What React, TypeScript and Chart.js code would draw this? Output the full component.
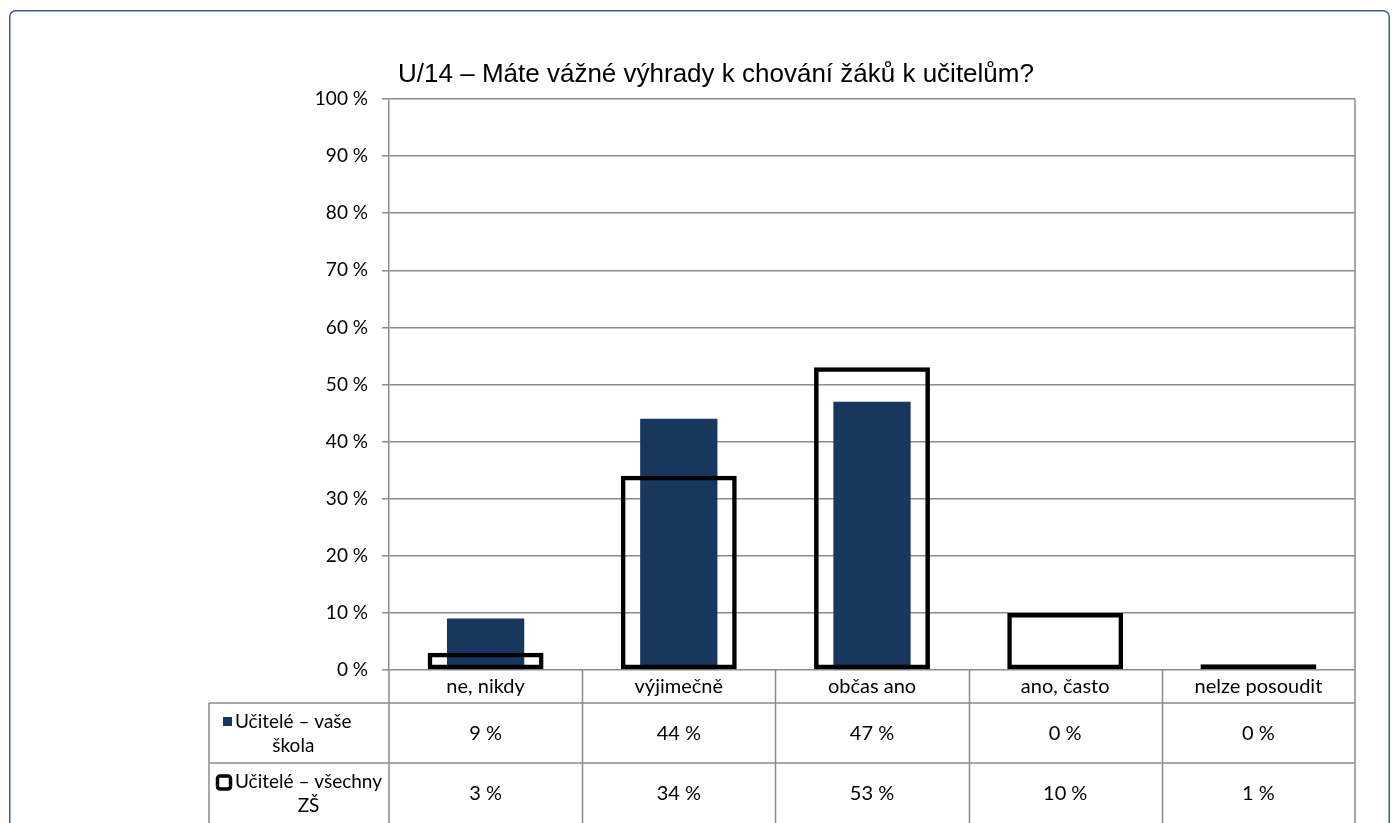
import React, { useEffect, useRef } from "react";
import { Chart, registerables } from "chart.js";

Chart.register(...registerables);

const title = "U/14 – Máte vážné výhrady k chování žáků k učitelům?";
const categories = ["ne, nikdy", "výjimečně", "občas ano", "ano, často", "nelze posoudit"];
const schoolValues = [9, 44, 47, 0, 0];
const allValues = [3, 34, 53, 10, 1];
const seriesNames = [["Učitelé – vaše", "škola"], ["Učitelé – všechny", "ZŠ"]];
const yTicks = [0, 10, 20, 30, 40, 50, 60, 70, 80, 90, 100];

const NAVY = "#17375E";
const GRID = "#8C8C8C";
const FONT = "Lato";

const tablePlugin = {
  id: "tablePlugin",
  afterDraw(chart: any) {
    const ctx = chart.ctx as CanvasRenderingContext2D;
    const xs = chart.scales.x;
    const area = chart.chartArea;
    const catW = (area.right - area.left) / categories.length;
    const top = area.bottom;
    const row1 = top + 33;
    const row2 = row1 + 60;
    const bottom = 823;
    const legLeft = 209;

    ctx.save();
    // outer border
    ctx.strokeStyle = "#3B5E8C";
    ctx.lineWidth = 1.5;
    ctx.beginPath();
    (ctx as any).roundRect(9.75, 10.75, 1379.5, 840, 6);
    ctx.stroke();

    // title
    ctx.fillStyle = "#000";
    ctx.font = "26px 'Liberation Sans'";
    ctx.textAlign = "center";
    ctx.textBaseline = "middle";
    ctx.fillText(title, 716, 75);

    // grid lines of table
    ctx.strokeStyle = GRID;
    ctx.lineWidth = 1.5;
    ctx.beginPath();
    ctx.moveTo(area.right, area.top);
    ctx.lineTo(area.right, bottom);
    ctx.moveTo(area.left, top);
    ctx.lineTo(area.left, bottom);
    for (let i = 1; i < categories.length; i++) {
      const x = Math.round(xs.getPixelForValue(i) - catW / 2) + 0.5;
      ctx.moveTo(x, top);
      ctx.lineTo(x, bottom);
    }
    ctx.moveTo(legLeft, row1);
    ctx.lineTo(area.right, row1);
    ctx.moveTo(legLeft, row2);
    ctx.lineTo(area.right, row2);
    ctx.moveTo(legLeft, row1);
    ctx.lineTo(legLeft, bottom);
    ctx.stroke();

    // text
    ctx.fillStyle = "#000";
    ctx.font = `20px ${FONT}`;
    ctx.textAlign = "center";
    ctx.textBaseline = "middle";
    categories.forEach((c, i) => {
      const x = xs.getPixelForValue(i);
      ctx.fillText(c, x, top + 17);
      ctx.fillText(`${schoolValues[i]} %`, x, row1 + 31);
      ctx.fillText(`${allValues[i]} %`, x, row2 + 31);
    });

    // legend cells
    ctx.font = `19px ${FONT}`;
    const textX = 235;
    const drawLegend = (rowTop: number, idx: number) => {
      const [l1, l2] = seriesNames[idx];
      const w1 = ctx.measureText(l1).width;
      const y1 = rowTop + 19;
      const y2 = rowTop + 43;
      if (idx === 0) {
        ctx.fillStyle = NAVY;
        ctx.fillRect(textX - 12, y1 - 5, 9, 9);
      } else {
        ctx.strokeStyle = "#000";
        ctx.lineWidth = 3.5;
        ctx.beginPath();
        (ctx as any).roundRect(textX - 17.5, y1 - 6, 13, 13, 2.5);
        ctx.stroke();
      }
      ctx.fillStyle = "#000";
      ctx.textAlign = "left";
      ctx.fillText(l1, textX, y1);
      ctx.textAlign = "center";
      ctx.fillText(l2, textX + w1 / 2, y2);
    };
    drawLegend(row1, 0);
    drawLegend(row2, 1);
    ctx.restore();
  },
};

export default function App() {
  const ref = useRef<HTMLCanvasElement | null>(null);
  useEffect(() => {
    if (!ref.current) return;
    const chart = new Chart(ref.current, {
      type: "bar",
      data: {
        labels: categories,
        datasets: [
          {
            label: seriesNames[1].join(" "),
            data: allValues,
            backgroundColor: "rgba(0,0,0,0)",
            borderColor: "#000",
            borderWidth: 4.5,
            borderSkipped: false,
            barPercentage: 0.6,
            categoryPercentage: 1,
            grouped: false,
            order: 1,
          },
          {
            label: seriesNames[0].join(" "),
            data: schoolValues,
            backgroundColor: NAVY,
            borderWidth: 0,
            barPercentage: 0.4,
            categoryPercentage: 1,
            grouped: false,
            order: 2,
          },
        ],
      },
      options: {
        responsive: false,
        animation: false,
        devicePixelRatio: 1,
        layout: { padding: { left: 289, right: 37, top: 99, bottom: 153 } },
        plugins: {
          legend: { display: false },
          title: { display: false },
          tooltip: { enabled: false },
        },
        scales: {
          x: { display: false },
          y: {
            min: 0,
            max: 100,
            afterFit: (s: any) => {
              s.width = 100;
            },
            afterBuildTicks: (s: any) => {
              s.ticks = yTicks.map((v) => ({ value: v }));
            },
            ticks: {
              callback: (v: any) => `${v} %`,
              font: { family: FONT, size: 19 },
              color: "#000",
              padding: 14,
            },
            grid: { color: GRID, lineWidth: 1.5, tickLength: 7 },
            border: { color: GRID, width: 1.5 },
          },
        },
      },
      plugins: [tablePlugin],
    });
    return () => chart.destroy();
  }, []);
  return (
    <div style={{ position: "fixed", left: 0, top: 0, width: 1392, height: 823, background: "#fff" }}>
      <canvas ref={ref} width={1392} height={823} />
    </div>
  );
}
